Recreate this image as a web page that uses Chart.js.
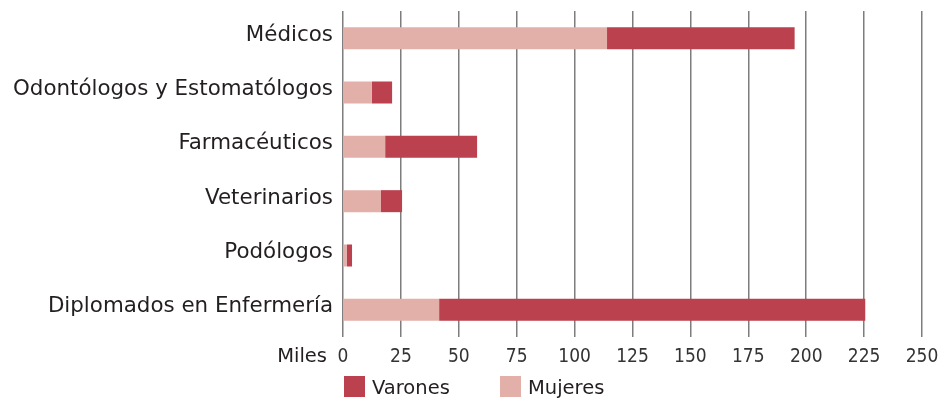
<!DOCTYPE html>
<html lang="es">
<head>
    <meta charset="UTF-8">
    <title>Profesionales sanitarios colegiados</title>
    <script src="https://cdn.jsdelivr.net/npm/chart.js"></script>
    <style>
        body {
            margin: 0;
            background: #fff;
        }
        #chart-container {
            width: 940px;
            height: 400px;
        }
    </style>
</head>
<body>
    <div id="chart-container">
        <canvas id="profChart" width="940" height="400"></canvas>
    </div>

    <script>
    // Data (thousands)
    const categories = ['Médicos', 'Odontólogos y Estomatólogos', 'Farmacéuticos', 'Veterinarios', 'Podólogos', 'Diplomados en Enfermería'];
    const mujeres = [114, 12.5, 18.2, 16.4, 1.7, 41.5];
    const varones = [81, 8.7, 39.7, 9.1, 2.2, 184];
    const xTicks = [0, 25, 50, 75, 100, 125, 150, 175, 200, 225, 250];
    const unitLabel = 'Miles';

    const textColor = '#231f20';
    const colorVarones = '#ba414d';
    const colorMujeres = '#e3afa9';

    // "Miles" next to the 0 tick and the legend under the axis
    const extrasPlugin = {
        id: 'extras',
        afterDraw(chart) {
            const ctx = chart.ctx;
            const x = chart.scales.x;
            const area = chart.chartArea;
            ctx.save();
            ctx.fillStyle = textColor;
            ctx.font = '19.5px "DejaVu Sans", sans-serif';
            ctx.textAlign = 'right';
            ctx.textBaseline = 'alphabetic';
            ctx.fillText(unitLabel, x.getPixelForValue(0) - 16, 362);

            // legend: Varones first, then Mujeres
            const items = [chart.data.datasets[1], chart.data.datasets[0]];
            let lx = area.left + 1;
            ctx.textAlign = 'left';
            items.forEach(ds => {
                ctx.fillStyle = ds.backgroundColor;
                ctx.fillRect(lx, 376, 21, 21);
                ctx.fillStyle = textColor;
                ctx.fillText(ds.label, lx + 28, 394);
                lx += 156;
            });
            ctx.restore();
        }
    };

    const ctx = document.getElementById('profChart').getContext('2d');

    new Chart(ctx, {
        type: 'bar',
        data: {
            labels: categories,
            datasets: [{
                label: 'Mujeres',
                data: mujeres,
                backgroundColor: colorMujeres,
                borderWidth: 0,
                categoryPercentage: 1,
                barPercentage: 0.405
            }, {
                label: 'Varones',
                data: varones,
                backgroundColor: colorVarones,
                borderWidth: 0,
                categoryPercentage: 1,
                barPercentage: 0.405
            }]
        },
        options: {
            indexAxis: 'y',
            responsive: false,
            animation: false,
            layout: {
                padding: { top: 11, right: 18, bottom: 0, left: 0 }
            },
            scales: {
                x: {
                    stacked: true,
                    min: 0,
                    max: 250,
                    afterBuildTicks: scale => {
                        scale.ticks = xTicks.map(v => ({ value: v }));
                    },
                    afterFit: scale => {
                        scale.height = 63;
                        scale.paddingLeft = 0;
                        scale.paddingRight = 0;
                    },
                    grid: {
                        color: '#7d7d7d',
                        lineWidth: 1.5,
                        drawTicks: false
                    },
                    border: { display: false },
                    ticks: {
                        padding: 9,
                        color: '#333',
                        font: { family: '"DejaVu Sans Condensed", "Liberation Sans Narrow", sans-serif', size: 19 }
                    }
                },
                y: {
                    stacked: true,
                    afterFit: scale => {
                        scale.width = 343;
                        scale.paddingTop = 0;
                        scale.paddingBottom = 0;
                    },
                    grid: { display: false, drawTicks: false },
                    border: { display: false },
                    ticks: {
                        padding: 10,
                        labelOffset: -3,
                        color: textColor,
                        font: { family: '"DejaVu Sans", sans-serif', size: 21.4 }
                    }
                }
            },
            plugins: {
                legend: { display: false },
                tooltip: { enabled: false }
            }
        },
        plugins: [extrasPlugin]
    });
    </script>
</body>
</html>
